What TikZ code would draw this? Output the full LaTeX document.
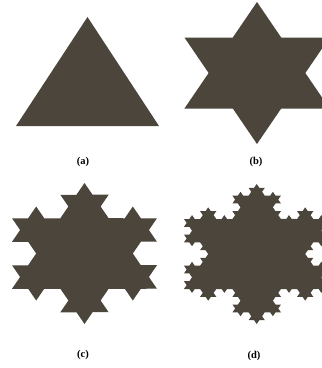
\documentclass[tikz,border=0pt]{standalone}
\usepackage{fontspec}
\setmainfont{Liberation Serif}
\usetikzlibrary{decorations.fractals}
\definecolor{flake}{RGB}{75,69,59}
\tikzset{
  flakefill/.style={fill=flake},
  lbl/.style={font=\fontsize{10.5}{12}\selectfont\bfseries, inner sep=0pt, text=black}
}
\begin{document}
\begin{tikzpicture}[x=1pt,y=1pt]
\useasboundingbox (0,0) rectangle (322,-368);
\clip (0,0) rectangle (322,-368);
% (a) triangle
\begin{scope}[transform canvas={shift={(87.5pt,-89.7pt)},xscale=1.136}]
  \fill[flakefill] (90:72.7pt) -- (-30:72.7pt) -- (210:72.7pt) -- cycle;
\end{scope}
% (b) star
\begin{scope}[transform canvas={shift={(257pt,-73pt)},xscale=1.18}, decoration={Koch snowflake}]
  \fill[flakefill] decorate{(90:71pt) -- (-30:71pt) -- (210:71pt) -- (90:71pt)};
\end{scope}
% (c) second iteration
\begin{scope}[transform canvas={shift={(84.5pt,-253.5pt)},xscale=1.187}, decoration={Koch snowflake}]
  \fill[flakefill] decorate{decorate{(90:70.5pt) -- (-30:70.5pt) -- (210:70.5pt) -- (90:70.5pt)}};
\end{scope}
% (d) third iteration
\begin{scope}[transform canvas={shift={(256.7pt,-254pt)},xscale=1.2}, decoration={Koch snowflake}]
  \fill[flakefill] decorate{decorate{decorate{(90:70pt) -- (-30:70pt) -- (210:70pt) -- (90:70pt)}}};
\end{scope}
\node[lbl] (la) at (83,-162) {(a)};
\node[lbl] (lb) at (256,-162) {(b)};
\node[lbl] (lc) at (83,-355) {(c)};
\node[lbl] (ld) at (254,-356) {(d)};
\end{tikzpicture}
\end{document}
